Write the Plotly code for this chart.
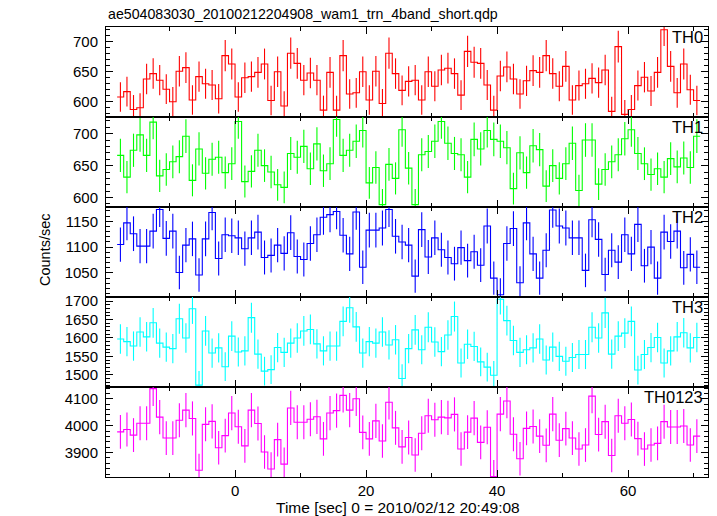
import numpy as np
import plotly.graph_objects as go

title_text = "ae504083030_20100212204908_wam1_trn_4band_short.qdp"
x_title = "Time [sec] 0 = 2010/02/12 20:49:08"
y_title = "Counts/sec"
bin_start = -18
bin_width = 1

th0 = [608, 617, 587, 590, 638, 647, 636, 621, 600, 651, 657, 603, 642, 630, 628, 605, 677, 663,
       608, 640, 642, 649, 663, 602, 650, 593, 681, 664, 636, 648, 636, 586, 649, 586, 677, 613,
       615, 650, 603, 651, 597, 681, 647, 619, 634, 636, 603, 650, 626, 653, 656, 647, 611, 684,
       666, 664, 628, 586, 643, 658, 638, 613, 635, 652, 649, 677, 647, 626, 659, 603, 627, 630,
       639, 632, 653, 584, 692, 579, 587, 627, 641, 618, 649, 720, 659, 615, 663, 620, 602]
th1 = [666, 632, 674, 698, 666, 718, 634, 644, 656, 664, 696, 627, 676, 638, 660, 663, 639, 653,
       719, 625, 641, 674, 650, 640, 620, 616, 669, 663, 680, 645, 684, 642, 653, 722, 666, 674,
       688, 705, 623, 647, 589, 652, 630, 706, 646, 589, 667, 672, 688, 719, 685, 669, 667, 632,
       691, 676, 705, 691, 688, 678, 614, 670, 639, 681, 675, 618, 650, 630, 653, 685, 611, 690,
       690, 621, 644, 656, 667, 692, 706, 669, 653, 636, 645, 632, 661, 648, 662, 647, 696]
th2 = [1105, 1147, 1126, 1102, 1102, 1131, 1173, 1117, 1131, 1051, 1104, 1116, 1046, 1116, 1167,
       1078, 1124, 1122, 1118, 1097, 1118, 1129, 1080, 1084, 1104, 1088, 1128, 1082, 1076, 1107,
       1124, 1158, 1163, 1169, 1123, 1087, 1168, 1061, 1133, 1133, 1137, 1173, 1121, 1110, 1104,
       1044, 1134, 1081, 1118, 1095, 1080, 1068, 1099, 1074, 1091, 1065, 1141, 1040, 1008, 1107,
       1136, 1031, 1147, 1087, 1040, 1094, 1172, 1141, 1137, 1118, 1118, 1055, 1153, 1115, 1047,
       1094, 1071, 1124, 1087, 1144, 1064, 1100, 1040, 1129, 1111, 1131, 1060, 1086, 1061]
th3 = [1597, 1590, 1578, 1616, 1603, 1641, 1586, 1575, 1571, 1652, 1600, 1679, 1472, 1619, 1559,
       1573, 1522, 1605, 1562, 1565, 1655, 1556, 1510, 1514, 1574, 1561, 1586, 1600, 1619, 1623,
       1584, 1565, 1578, 1578, 1645, 1682, 1630, 1559, 1590, 1586, 1616, 1581, 1595, 1490, 1571,
       1622, 1568, 1629, 1589, 1563, 1608, 1658, 1532, 1583, 1577, 1535, 1521, 1499, 1705, 1647,
       1593, 1561, 1568, 1573, 1597, 1540, 1575, 1550, 1537, 1547, 1555, 1555, 1629, 1600, 1668,
       1556, 1605, 1613, 1645, 1513, 1555, 1574, 1601, 1532, 1565, 1603, 1614, 1573, 1601]
th0123 = [3977, 3986, 3965, 4009, 4009, 4138, 4032, 3954, 3954, 4020, 4058, 4027, 3834, 4005, 4016,
          3918, 3963, 4047, 3996, 3925, 4058, 4008, 3902, 3839, 3948, 3857, 4066, 4013, 4013, 4024,
          4033, 3951, 4047, 4056, 4113, 4058, 4100, 3975, 3951, 4018, 3943, 4087, 3992, 3921, 3956,
          3891, 3972, 4037, 4022, 4032, 4029, 4042, 3913, 3976, 4028, 3938, 3994, 3811, 4043, 4092,
          3968, 3877, 3990, 3997, 3961, 3927, 4043, 3946, 3989, 3954, 3913, 3928, 4110, 3967, 4015,
          3889, 4037, 4009, 4023, 3952, 3913, 3928, 3934, 4015, 3995, 3995, 3999, 3928, 3961]

band_names = ["TH0", "TH1", "TH2", "TH3", "TH0123"]
band_values = [th0, th1, th2, th3, th0123]
colors = ["#ff0000", "#00ff00", "#0000ff", "#00ffff", "#ff00ff"]
y_ranges = [[574.6, 724.7], [585.3, 726.0], [1003.5, 1177.7], [1467, 1711], [3809, 4144]]
y_dticks = [50, 50, 50, 50, 100]
y_minor = [10, 10, 10, 10, 20]
x_range = [-19.7, 72.2]

W, H = 717, 516
xl, xr = 106, 708
panel_tops = [27, 117, 207, 297, 387]
panel_h = 90
FONT = "Liberation Sans, Arial, sans-serif"

fig = go.Figure()
for i, (name, vals, col) in enumerate(zip(band_names, band_values, colors)):
    n = len(vals)
    edges = bin_start + np.arange(n + 1) * bin_width
    centers = edges[:-1] + bin_width / 2
    vals_arr = np.array(vals, dtype=float)
    errs = np.sqrt(vals_arr)
    ax = "" if i == 0 else str(i + 1)
    fig.add_trace(go.Scatter(
        x=centers, y=vals_arr, mode="markers",
        marker=dict(size=0.1, color=col, opacity=0),
        error_y=dict(type="data", array=errs, visible=True, color=col, thickness=1.1, width=0),
        xaxis="x" + ax, yaxis="y" + ax, showlegend=False, hoverinfo="skip"))
    fig.add_trace(go.Scatter(
        x=edges, y=np.append(vals_arr, vals_arr[-1]), mode="lines",
        line=dict(color=col, width=1.1, shape="hv"),
        xaxis="x" + ax, yaxis="y" + ax, showlegend=False))

    top = panel_tops[i]
    bot = top + panel_h
    dom_y = [1 - bot / H, 1 - top / H]
    common = dict(showline=True, linecolor="black", linewidth=1, mirror="ticks",
                  ticks="inside", tickcolor="black", showgrid=False, zeroline=False,
                  automargin=False,
                  tickfont=dict(family=FONT, size=15, color="black"))
    fig.layout["xaxis" + ax] = dict(
        domain=[xl / W, xr / W], anchor="y" + ax, range=x_range,
        dtick=20, tick0=0, ticklen=7, tickwidth=1,
        minor=dict(dtick=10, tick0=0, ticklen=4, ticks="inside", tickcolor="black"),
        showticklabels=(i == 4), **common)
    fig.layout["yaxis" + ax] = dict(
        domain=dom_y, anchor="x" + ax, range=y_ranges[i],
        dtick=y_dticks[i], tick0=0, ticklen=7, tickwidth=1,
        minor=dict(dtick=y_minor[i], tick0=0, ticklen=4, ticks="inside", tickcolor="black"),
        showticklabels=True, ticklabelstandoff=4, **common)
    fig.add_annotation(text=name, xref="paper", yref="paper",
                       x=(xr - 3) / W, y=1 - (top + 9.5) / H, xanchor="right", yanchor="middle",
                       showarrow=False,
                       font=dict(family=FONT, size=16.5, color="black"))

fig.add_annotation(text=title_text, xref="paper", yref="paper", x=xl / W, y=1 - 14 / H,
                   xanchor="left", yanchor="middle", showarrow=False,
                   font=dict(family=FONT, size=14.2, color="black"))
fig.add_annotation(text=x_title, xref="paper", yref="paper", x=398 / W, y=1 - 507 / H,
                   xanchor="center", yanchor="middle", showarrow=False,
                   font=dict(family=FONT, size=15.5, color="black"))
fig.add_annotation(text=y_title, xref="paper", yref="paper", x=45 / W, y=1 - 250 / H,
                   xanchor="center", yanchor="middle", textangle=-90, showarrow=False,
                   font=dict(family=FONT, size=14.5, color="black"))

fig.update_layout(width=W, height=H, margin=dict(l=0, r=0, t=0, b=0),
                  paper_bgcolor="white", plot_bgcolor="white")
fig.write_html("out.html", config={"displayModeBar": False},
               post_script="document.body.style.margin='0';document.body.style.overflow='hidden';")
